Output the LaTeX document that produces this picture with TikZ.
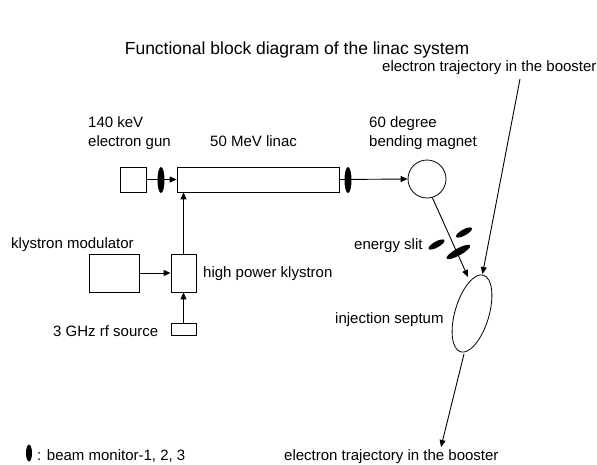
\documentclass[tikz,border=0pt]{standalone}
\usepackage{fontspec}
\setmainfont{Liberation Sans}
\usetikzlibrary{arrows.meta,shapes.geometric}
\begin{document}
\begin{tikzpicture}[x=1pt,y=-1pt,
  lbl/.style={anchor=base west, inner sep=0pt, font=\fontsize{15}{18}\selectfont},
  box/.style={draw, line width=0.8pt, inner sep=0pt, minimum width=#1},
  conn/.style={line width=0.9pt},
  arr/.style={conn, -{Triangle[length=7pt,width=6pt]}},
  monitor/.style={fill=black, ellipse, inner sep=0pt, minimum width=7pt, minimum height=26pt},
  slitbar/.style={fill=black, ellipse, inner sep=0pt, minimum height=6pt, rotate=29}]
\useasboundingbox (0,0) rectangle (597,464);
% title
\node[anchor=base, inner sep=0pt, font=\fontsize{17.5}{20}\selectfont] (title) at (297,54) {Functional block diagram of the linac system};
% labels
\node[lbl] (toplbl) at (382,71) {electron trajectory in the booster};
\node[lbl] (gunlbl1) at (88,127) {140 keV};
\node[lbl] (gunlbl2) at (88,146) {electron gun};
\node[lbl] (linaclbl) at (210,146) {50 MeV linac};
\node[lbl] (maglbl1) at (369,127) {60 degree};
\node[lbl] (maglbl2) at (369,146) {bending magnet};
\node[lbl] (modlbl) at (11,248) {klystron modulator};
\node[lbl] (klylbl) at (203,277.5) {high power klystron};
\node[lbl] (rflbl) at (53,336) {3 GHz rf source};
\node[lbl] (slitlbl) at (354,249) {energy slit};
\node[lbl] (seplbl) at (335,323) {injection septum};
\node[lbl] (botlbl) at (284,460) {electron trajectory in the booster};
\node[lbl] (leglbl) at (37,460) {: beam monitor-1, 2, 3};
% boxes
\node[box=26pt, minimum height=25pt] (gun) at (133,179.5) {};
\node[box=162pt, minimum height=25pt] (linac) at (258,179.5) {};
\node[box=50pt, minimum height=38pt] (mod) at (114,273) {};
\node[box=25pt, minimum height=38pt] (kly) at (183.5,273) {};
\node[box=25pt, minimum height=12pt] (rf) at (183.5,329) {};
\node[draw, circle, line width=0.8pt, inner sep=0pt, minimum size=38pt] (mag) at (427,179) {};
\node[draw, ellipse, line width=0.8pt, inner sep=0pt, minimum width=34pt, minimum height=80pt, rotate=-16.6] (sep) at (472,313.5) {};
% free ends
\coordinate (s1) at (468,277);
\coordinate (s2) at (482.5,274);
\coordinate (t1) at (520,79);
\coordinate (b1) at (441,447);
\coordinate (sout) at (464,354);
% connectors
\draw[arr] (gun.east) -- (linac.west);
\draw[arr] (linac.east) -- (mag.west);
\draw[arr] (mod.east) -- (kly.west);
\draw[arr] (rf.north) -- (kly.south);
\draw[arr] (kly.north) -- (kly.north |- linac.south);
\draw[arr] (mag.-74) -- (s1);
\draw[arr] (t1) -- (s2);
\draw[arr] (sout) -- (b1);
% beam monitors
\node[monitor] (mon1) at (161,180) {};
\node[monitor] (mon2) at (348,180) {};
\node[monitor, minimum width=6pt, minimum height=17pt] (legmon) at (29,453) {};
% energy slit
\node[slitbar, minimum width=18pt] (slitA) at (464,232.5) {};
\node[slitbar, minimum width=18pt] (slitB) at (436.5,244.5) {};
\node[slitbar, minimum width=27pt, minimum height=7pt] (slitC) at (458.3,252) {};
\end{tikzpicture}
\end{document}
